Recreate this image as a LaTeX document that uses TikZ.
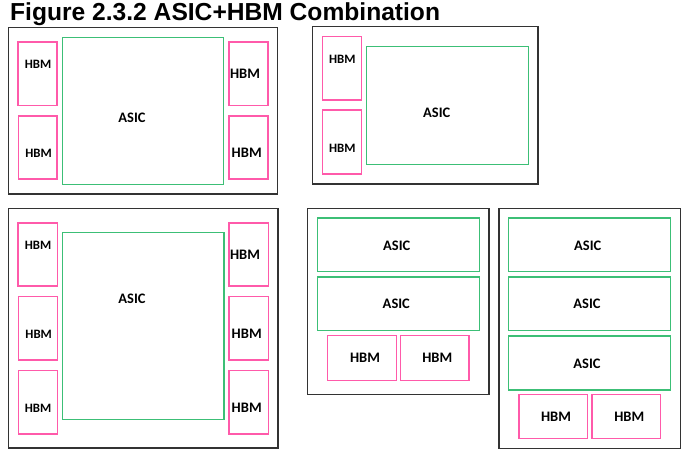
\documentclass[tikz,border=0pt]{standalone}
\usepackage{fontspec}
\setmainfont{Carlito}
\newfontfamily\titlefont{Liberation Sans}
\definecolor{hbmpink}{HTML}{FF5AAA}
\definecolor{asicgreen}{HTML}{3CBF76}
\definecolor{pkgborder}{HTML}{333333}
\tikzset{
  pkg/.style={draw=pkgborder, line width=1.5pt},
  hbmbox/.style={draw=hbmpink, line width=1.5pt},
  asicbox/.style={draw=asicgreen, line width=1.5pt},
  lbl/.style={inner sep=0pt, font=\bfseries\fontsize{14.5}{16}\selectfont},
  lblsmall/.style={inner sep=0pt, font=\bfseries\fontsize{12.8}{15}\selectfont},
}
\begin{document}
\begin{tikzpicture}[x=1pt,y=-1pt]
\useasboundingbox (0,0) rectangle (683,454);
\node[anchor=base west, inner sep=0pt, font=\titlefont\bfseries\fontsize{24.6}{28}\selectfont] (title) at (10,20.5) {Figure 2.3.2 ASIC+HBM Combination};

% ---- Package 1 (top left)
\draw[pkg] (8.5,27.7) rectangle (277.5,194);
\draw[hbmbox] (18,42) rectangle (57,105.7);
\draw[hbmbox] (18.7,116) rectangle (57,179);
\draw[asicbox] (62.3,37.7) rectangle (223.7,184.7);
\draw[hbmbox] (229,42) rectangle (268,105.7);
\draw[hbmbox] (229,116) rectangle (268,179);
\node[lblsmall] (p1h1) at (38,64) {HBM};
\node[lblsmall] (p1h2) at (38.5,153.7) {HBM};
\node[lbl] (p1a) at (132,117.7) {ASIC};
\node[lbl] (p1h3) at (245,74) {HBM};
\node[lbl] (p1h4) at (246.7,152.7) {HBM};

% ---- Package 2 (top right)
\draw[pkg] (312.3,26.7) rectangle (538,184);
\draw[hbmbox] (322.3,36.7) rectangle (361.7,100);
\draw[hbmbox] (322.3,110) rectangle (361.7,174);
\draw[asicbox] (366.7,46.3) rectangle (528.7,164.3);
\node[lblsmall] (p2h1) at (342.3,59) {HBM};
\node[lblsmall] (p2h2) at (342.3,148) {HBM};
\node[lbl] (p2a) at (436.7,112.7) {ASIC};

% ---- Package 3 (bottom left)
\draw[pkg] (8.3,208.3) rectangle (278,448);
\draw[hbmbox] (18,223) rectangle (57.3,286);
\draw[hbmbox] (18.7,296.3) rectangle (57.3,360);
\draw[hbmbox] (18.7,370.3) rectangle (57.3,434);
\draw[asicbox] (62.3,232.7) rectangle (224,419.7);
\draw[hbmbox] (229,223) rectangle (268.3,286);
\draw[hbmbox] (229,296.3) rectangle (268.3,360);
\draw[hbmbox] (229,370.3) rectangle (268.3,434);
\node[lblsmall] (p3h1) at (38,245) {HBM};
\node[lblsmall] (p3h2) at (38.7,334.7) {HBM};
\node[lblsmall] (p3h3) at (38,408.7) {HBM};
\node[lbl] (p3a) at (132,299) {ASIC};
\node[lbl] (p3h4) at (245,255.3) {HBM};
\node[lbl] (p3h5) at (246.7,333.3) {HBM};
\node[lbl] (p3h6) at (246.7,407.3) {HBM};

% ---- Package 4 (bottom middle)
\draw[pkg] (307.3,208.3) rectangle (489,394.3);
\draw[asicbox] (317.3,218) rectangle (479.3,271.7);
\draw[asicbox] (317.3,277) rectangle (479.3,330.7);
\draw[hbmbox] (327.7,335.7) rectangle (396.3,380.3);
\draw[hbmbox] (400.3,335.7) rectangle (469,380.3);
\node[lbl] (p4a1) at (396.7,245.7) {ASIC};
\node[lbl] (p4a2) at (396.3,304) {ASIC};
\node[lbl] (p4h1) at (365,358) {HBM};
\node[lbl] (p4h2) at (437.3,358) {HBM};

% ---- Package 5 (bottom right)
\draw[pkg] (499,208.3) rectangle (680.3,448.3);
\draw[asicbox] (508.7,218) rectangle (670.7,271.7);
\draw[asicbox] (508.7,277) rectangle (670.7,330.7);
\draw[asicbox] (508.7,336) rectangle (670.7,390);
\draw[hbmbox] (519,394.3) rectangle (587.3,438.7);
\draw[hbmbox] (592,394.3) rectangle (660.3,438.7);
\node[lbl] (p5a1) at (587.7,245.7) {ASIC};
\node[lbl] (p5a2) at (587,304) {ASIC};
\node[lbl] (p5a3) at (587,363.3) {ASIC};
\node[lbl] (p5h1) at (556,417) {HBM};
\node[lbl] (p5h2) at (629.3,417) {HBM};
\end{tikzpicture}
\end{document}
